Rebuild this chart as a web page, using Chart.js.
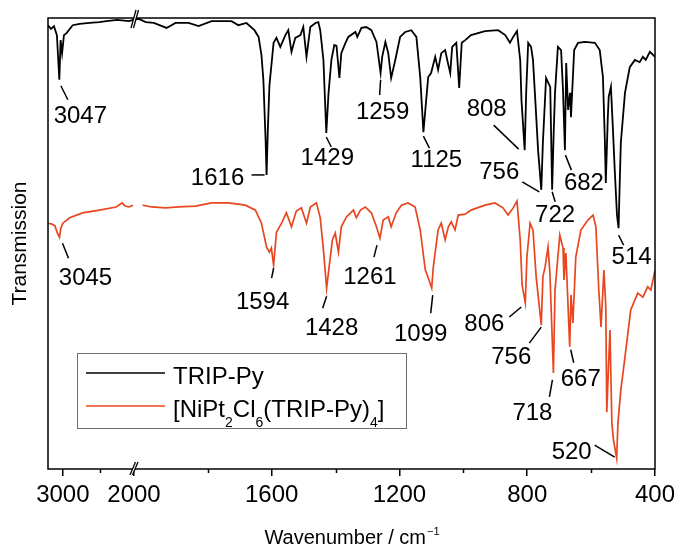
<!DOCTYPE html>
<html>
<head>
<meta charset="utf-8">
<script src="https://cdn.jsdelivr.net/npm/chart.js@4.4.1/dist/chart.umd.min.js"></script>
<style>
  html, body { margin: 0; padding: 0; background: #fff; }
</style>
</head>
<body>
<canvas id="ir" width="678" height="551"></canvas>
<script>
// IR spectra, wavenumber in cm-1, transmission in arbitrary units (0-100)
const wnTrip = [3200, 3160, 3120, 3080, 3047, 3030, 3010, 2985, 2947, 2867, 2773, 2640, 2507, 2413, 2267, 2107, 2053,
  2016, 1994, 1969, 1929, 1901, 1860, 1829, 1788, 1726, 1704, 1679, 1654, 1641, 1632, 1626, 1619, 1616, 1612, 1607,
  1594, 1585, 1573, 1557, 1548, 1538, 1526, 1510, 1501, 1491, 1479, 1463, 1454, 1448, 1438, 1429, 1422, 1413, 1404,
  1397, 1388, 1382, 1369, 1360, 1338, 1332, 1319, 1304, 1288, 1272, 1259, 1254, 1244, 1235, 1226, 1213, 1198, 1182,
  1163, 1147, 1135, 1125, 1119, 1110, 1101, 1088, 1079, 1069, 1057, 1047, 1041, 1035, 1022, 1013, 1005, 994, 976,
  932, 891, 869, 854, 844, 832, 822, 818, 808, 803, 797, 788, 782, 776, 766, 756, 751, 741, 735, 728, 722, 717, 713,
  704, 694, 688, 682, 678, 672, 666, 663, 653, 641, 619, 588, 573, 563, 557, 554, 548, 545, 538, 532, 526, 519, 514,
  511, 507, 494, 479, 463, 448, 438, 429, 416, 400];
const tTrip = [98.4, 97.6, 98.2, 96.2, 86.3, 95.1, 92.2, 96.2, 96.7, 98.4, 98.7, 98.9, 99.1, 99.3, 99.6, 99.3, 99.6,
  99.8, 99.1, 98.9, 97.8, 98.9, 98.9, 98.2, 99.3, 99.3, 98.4, 98.9, 97.3, 95.8, 91.8, 86.3, 72.9, 65.2, 75.2, 85.1,
  94.5, 95.6, 93.6, 96.2, 97.3, 92.5, 95.6, 96.2, 98.0, 91.4, 98.0, 98.9, 99.1, 97.3, 90.7, 74.5, 83.4, 90.7, 94.0,
  93.8, 86.7, 92.2, 94.5, 95.8, 96.9, 95.8, 97.8, 98.0, 97.3, 94.7, 87.8, 91.4, 94.7, 92.2, 86.7, 90.7, 95.8, 96.9,
  97.3, 95.8, 86.9, 74.7, 79.6, 86.9, 87.8, 91.4, 88.5, 92.2, 92.9, 89.6, 87.8, 93.6, 94.5, 84.5, 94.5, 95.1, 96.2,
  97.1, 97.3, 96.2, 94.5, 95.8, 97.1, 90.7, 81.8, 70.7, 84.0, 94.5, 93.6, 90.7, 83.4, 70.7, 61.9, 72.3, 86.7, 85.8, 84.7, 61.9, 75.0, 83.4,
  93.6, 92.9, 84.0, 70.7, 90.0, 79.6, 83.4, 78.0, 92.9, 94.5, 94.7, 94.5, 92.9, 86.9, 72.9, 63.4, 77.4, 82.5, 84.7, 75.8, 66.3, 56.3, 53.4,
  61.9, 72.3, 83.4, 89.1, 90.7, 90.2, 91.4, 90.7, 92.5, 91.4];

const wnComplex = [3200, 3147, 3107, 3073, 3045, 3027, 3000, 2907, 2733, 2507, 2280, 2200, 2160, 2107, 2053, 2035,
  2004, 1976, 1932, 1891, 1838, 1788, 1735, 1682, 1651, 1632, 1616, 1607, 1601, 1594, 1585, 1569, 1554, 1538, 1523,
  1507, 1491, 1479, 1460, 1448, 1438, 1428, 1422, 1410, 1401, 1391, 1382, 1366, 1344, 1335, 1322, 1307, 1288, 1272,
  1261, 1251, 1235, 1226, 1210, 1194, 1173, 1151, 1135, 1119, 1110, 1099, 1094, 1079, 1069, 1057, 1047, 1038, 1026,
  1016, 994, 976, 932, 901, 876, 860, 844, 832, 822, 816, 806, 801, 791, 782, 772, 756, 751, 744, 735, 729, 718, 713,
  698, 688, 685, 679, 667, 663, 657, 648, 632, 610, 594, 585, 576, 569, 560, 554, 551, 541, 535, 530, 520, 516, 507,
  494, 476, 454, 438, 423, 413, 400];
const tComplex = [54.5, 54.3, 53.9, 52.3, 51.4, 53.4, 54.5, 55.7, 56.8, 57.4, 58.1, 59.0, 58.3, 58.1, 58.5, null,
  58.5, 58.1, 57.9, 58.1, 58.3, 59.0, 59.0, 58.5, 57.4, 54.5, 49.2, 48.1, 49.0, 45.2, 52.5, 54.5, 56.8, 53.7, 57.2,
  57.9, 54.5, 58.1, 59.0, 55.7, 48.6, 40.1, 43.7, 50.8, 52.3, 48.1, 53.7, 55.9, 57.4, 55.7, 57.4, 58.1, 56.8, 53.7,
  51.2, 55.2, 55.9, 53.7, 56.8, 58.5, 59.0, 58.1, 53.0, 44.1, 42.4, 40.1, 44.8, 53.0, 54.5, 50.8, 53.7, 54.8, 53.0,
  56.3, 56.5, 57.4, 58.5, 59.0, 57.9, 56.3, 57.9, 59.4, 50.8, 40.8, 36.8, 47.0, 54.5, 53.0, 42.6, 31.9, 42.6, 44.8, 49.2, 43.5, 21.3, 39.7,
  51.9, 49.0, 41.9, 47.9, 27.1, 38.6, 32.4, 47.0, 53.0, 55.2, 56.3, 53.7, 39.7, 31.5, 44.1, 35.9, 12.6, 30.8, 10.2, 6.4, 2.4, 10.2, 17.5,
  24.8, 35.3, 39.0, 38.1, 40.4, 39.7, 44.1];

const tickValues = [3000, 2500, 2000, 1800, 1600, 1400, 1200, 1000, 800, 600, 400];
const tickLabels = ['3000', '', '2000', '', '1600', '', '1200', '', '800', '', '400'];

const peaksTrip = [3047, 1616, 1429, 1259, 1125, 808, 756, 722, 682, 514];
const peaksComplex = [3045, 1594, 1428, 1261, 1099, 806, 756, 718, 667, 520];

// leader line and text placement around each peak, in px
const tripPlace = {
  3047: [1.5, 6, 8.5, 20, 21, 37], 1616: [-15, 0, -2, 0, -49, 3], 1429: [0, 4, 5, 14, 1, 25],
  1259: [0, 7, -1, 22, 2, 39], 1125: [0, 4, 6, 16, 13, 28], 808: [-6, -1, -31, -25, -38, -41],
  756: [-2, 2, -19, -8, -42, -17], 722: [0, 2, 3, 12, 3, 26], 682: [0.5, 5, 6.5, 20, 19, 33],
  514: [0, 7, 5, 17, 13, 29]
};
const complexPlace = {
  3045: [3, 6, 9, 21, 26, 41], 1594: [0, 3, -2, 13, -11, 37], 1428: [0, 8, -4, 20, 5, 40],
  1261: [-3, 7, -6, 19, -10, 39], 1099: [1, 7, -1, 25, -11, 46], 806: [-4, 4, -16, 14, -41, 21],
  756: [0, 2, -12, 18, -30, 32], 718: [-1, 7, -4, 24, -21, 40], 667: [1, 3, 4, 16, 11, 33],
  520: [-2, -1, -22, -13, -45, -6]
};

const FONT = '"Liberation Sans", Arial, sans-serif';
const BLACK = '#000000';
const RED = '#e8461e';

// broken axis: 3200-2040 squeezed on the left, 2031-400 on the right
const BREAK_POS = 86;
const toAxis = w => w >= 2040 ? (3200 - w) * BREAK_POS / 1160 : BREAK_POS + (2031 - w) * 521 / 1631;
const tickPos = w => w === 2000 ? BREAK_POS : toAxis(w);

const toPoints = (wn, t) => wn.map((w, i) => ({ x: toAxis(w), y: t[i] }));

function drawRich(ctx, text, x, y, size) {
  // unicode subscript digits are drawn as small lowered digits
  let cx = x;
  for (const ch of text) {
    const code = ch.codePointAt(0);
    if (code >= 0x2080 && code <= 0x2089) {
      const d = String(code - 0x2080);
      ctx.font = Math.round(size * 0.58) + 'px ' + FONT;
      ctx.fillText(d, cx, y + size * 0.42);
      cx += ctx.measureText(d).width;
    } else {
      ctx.font = size + 'px ' + FONT;
      ctx.fillText(ch, cx, y);
      cx += ctx.measureText(ch).width;
    }
  }
}

const overlay = {
  id: 'overlay',
  afterDraw(chart) {
    const { ctx, chartArea: a, scales: { x, y } } = chart;
    ctx.save();

    // frame
    ctx.strokeStyle = BLACK;
    ctx.lineWidth = 1.5;
    ctx.strokeRect(a.left, a.top, a.right - a.left, a.bottom - a.top);

    // minor ticks
    ctx.lineWidth = 1.5;
    tickValues.forEach((w, i) => {
      if (tickLabels[i]) return;
      const px = Math.round(x.getPixelForValue(tickPos(w))) + 0.5;
      ctx.beginPath();
      ctx.moveTo(px, a.bottom);
      ctx.lineTo(px, a.bottom + 4);
      ctx.stroke();
    });

    // axis break marks
    const bx = x.getPixelForValue(BREAK_POS);
    [[a.top, -3, 10, 2, -8], [a.bottom, -4, 6, 1.5, -7]].forEach(([yy, x1, y1, x2, y2]) => {
      ctx.fillStyle = '#fff';
      ctx.beginPath();
      ctx.moveTo(bx + x1, yy + y1);
      ctx.lineTo(bx + x2, yy + y2);
      ctx.lineTo(bx + x2 + 2.5, yy + y2);
      ctx.lineTo(bx + x1 + 2.5, yy + y1);
      ctx.closePath();
      ctx.fill();
      ctx.lineWidth = 1.3;
      [0, 2.5].forEach(o => {
        ctx.beginPath();
        ctx.moveTo(bx + x1 + o, yy + y1);
        ctx.lineTo(bx + x2 + o, yy + y2);
        ctx.stroke();
      });
    });

    // peak labels
    ctx.font = '24px ' + FONT;
    ctx.fillStyle = BLACK;
    ctx.textAlign = 'center';
    ctx.textBaseline = 'middle';
    ctx.lineWidth = 1.5;
    [[peaksTrip, wnTrip, tTrip, tripPlace], [peaksComplex, wnComplex, tComplex, complexPlace]].forEach(([peaks, wn, t, place]) => {
      peaks.forEach(p => {
        const i = wn.indexOf(p);
        const px = x.getPixelForValue(toAxis(p));
        const py = y.getPixelForValue(t[i]);
        const [lx1, ly1, lx2, ly2, tx, ty] = place[p];
        ctx.beginPath();
        ctx.moveTo(px + lx1, py + ly1);
        ctx.lineTo(px + lx2, py + ly2);
        ctx.stroke();
        ctx.fillText(String(p), px + tx, py + ty);
      });
    });

    // legend
    const lx = a.left + 29, ly = a.bottom - 116;
    ctx.strokeStyle = '#6e6e6e';
    ctx.lineWidth = 1;
    ctx.strokeRect(lx + 0.5, ly + 0.5, 329, 75);
    ctx.textAlign = 'left';
    ctx.textBaseline = 'alphabetic';
    chart.data.datasets.forEach((ds, k) => {
      const rowY = ly + 20 + k * 33;
      ctx.strokeStyle = ds.borderColor;
      ctx.lineWidth = 1.5;
      ctx.beginPath();
      ctx.moveTo(lx + 9, rowY);
      ctx.lineTo(lx + 88, rowY);
      ctx.stroke();
      ctx.fillStyle = BLACK;
      drawRich(ctx, ds.label, lx + 96, rowY + 10.5, 24);
    });

    // x axis title with superscript
    ctx.fillStyle = BLACK;
    const main = 'Wavenumber / cm';
    ctx.font = '20px ' + FONT;
    const mw = ctx.measureText(main).width;
    ctx.font = '11px ' + FONT;
    const sw = ctx.measureText('\u22121').width;
    const sx = (a.left + a.right) / 2 - (mw + sw) / 2;
    ctx.font = '20px ' + FONT;
    ctx.fillText(main, sx, 544);
    ctx.font = '11px ' + FONT;
    ctx.fillText('\u22121', sx + mw + 1, 535);

    ctx.restore();
  }
};

new Chart(document.getElementById('ir'), {
  type: 'line',
  data: {
    datasets: [
      { label: 'TRIP-Py', data: toPoints(wnTrip, tTrip), borderColor: BLACK, borderWidth: 1.8,
        pointRadius: 0, tension: 0, fill: false },
      { label: '[NiPt\u2082Cl\u2086(TRIP-Py)\u2084]', data: toPoints(wnComplex, tComplex), borderColor: RED,
        borderWidth: 1.7, pointRadius: 0, tension: 0, fill: false, spanGaps: false }
    ]
  },
  options: {
    responsive: false,
    animation: false,
    devicePixelRatio: 1,
    events: [],
    layout: { padding: { left: 0, right: 23, top: 18, bottom: 0 } },
    plugins: { legend: { display: false }, tooltip: { enabled: false } },
    scales: {
      x: {
        type: 'linear',
        min: 0,
        max: 607,
        border: { display: false },
        grid: {
          drawOnChartArea: false,
          drawTicks: true,
          tickLength: 7,
          lineWidth: 1.5,
          tickColor: c => tickLabels[c.index] ? BLACK : 'rgba(0,0,0,0)'
        },
        afterBuildTicks: s => { s.ticks = tickValues.map(w => ({ value: tickPos(w) })); },
        ticks: {
          autoSkip: false,
          maxRotation: 0,
          padding: 5,
          color: BLACK,
          font: { family: FONT, size: 24 },
          callback: (v, i) => tickLabels[i]
        },
        afterFit: s => { s.height = 82; s.paddingLeft = 0; s.paddingRight = 0; }
      },
      y: {
        min: 0,
        max: 100,
        border: { display: false },
        grid: { display: false },
        ticks: { display: false },
        title: { display: true, text: 'Transmission', color: BLACK, font: { family: FONT, size: 21 }, padding: { top: 8, bottom: 0 } },
        afterFit: s => { s.width = 48; }
      }
    }
  },
  plugins: [overlay]
});
</script>
</body>
</html>
